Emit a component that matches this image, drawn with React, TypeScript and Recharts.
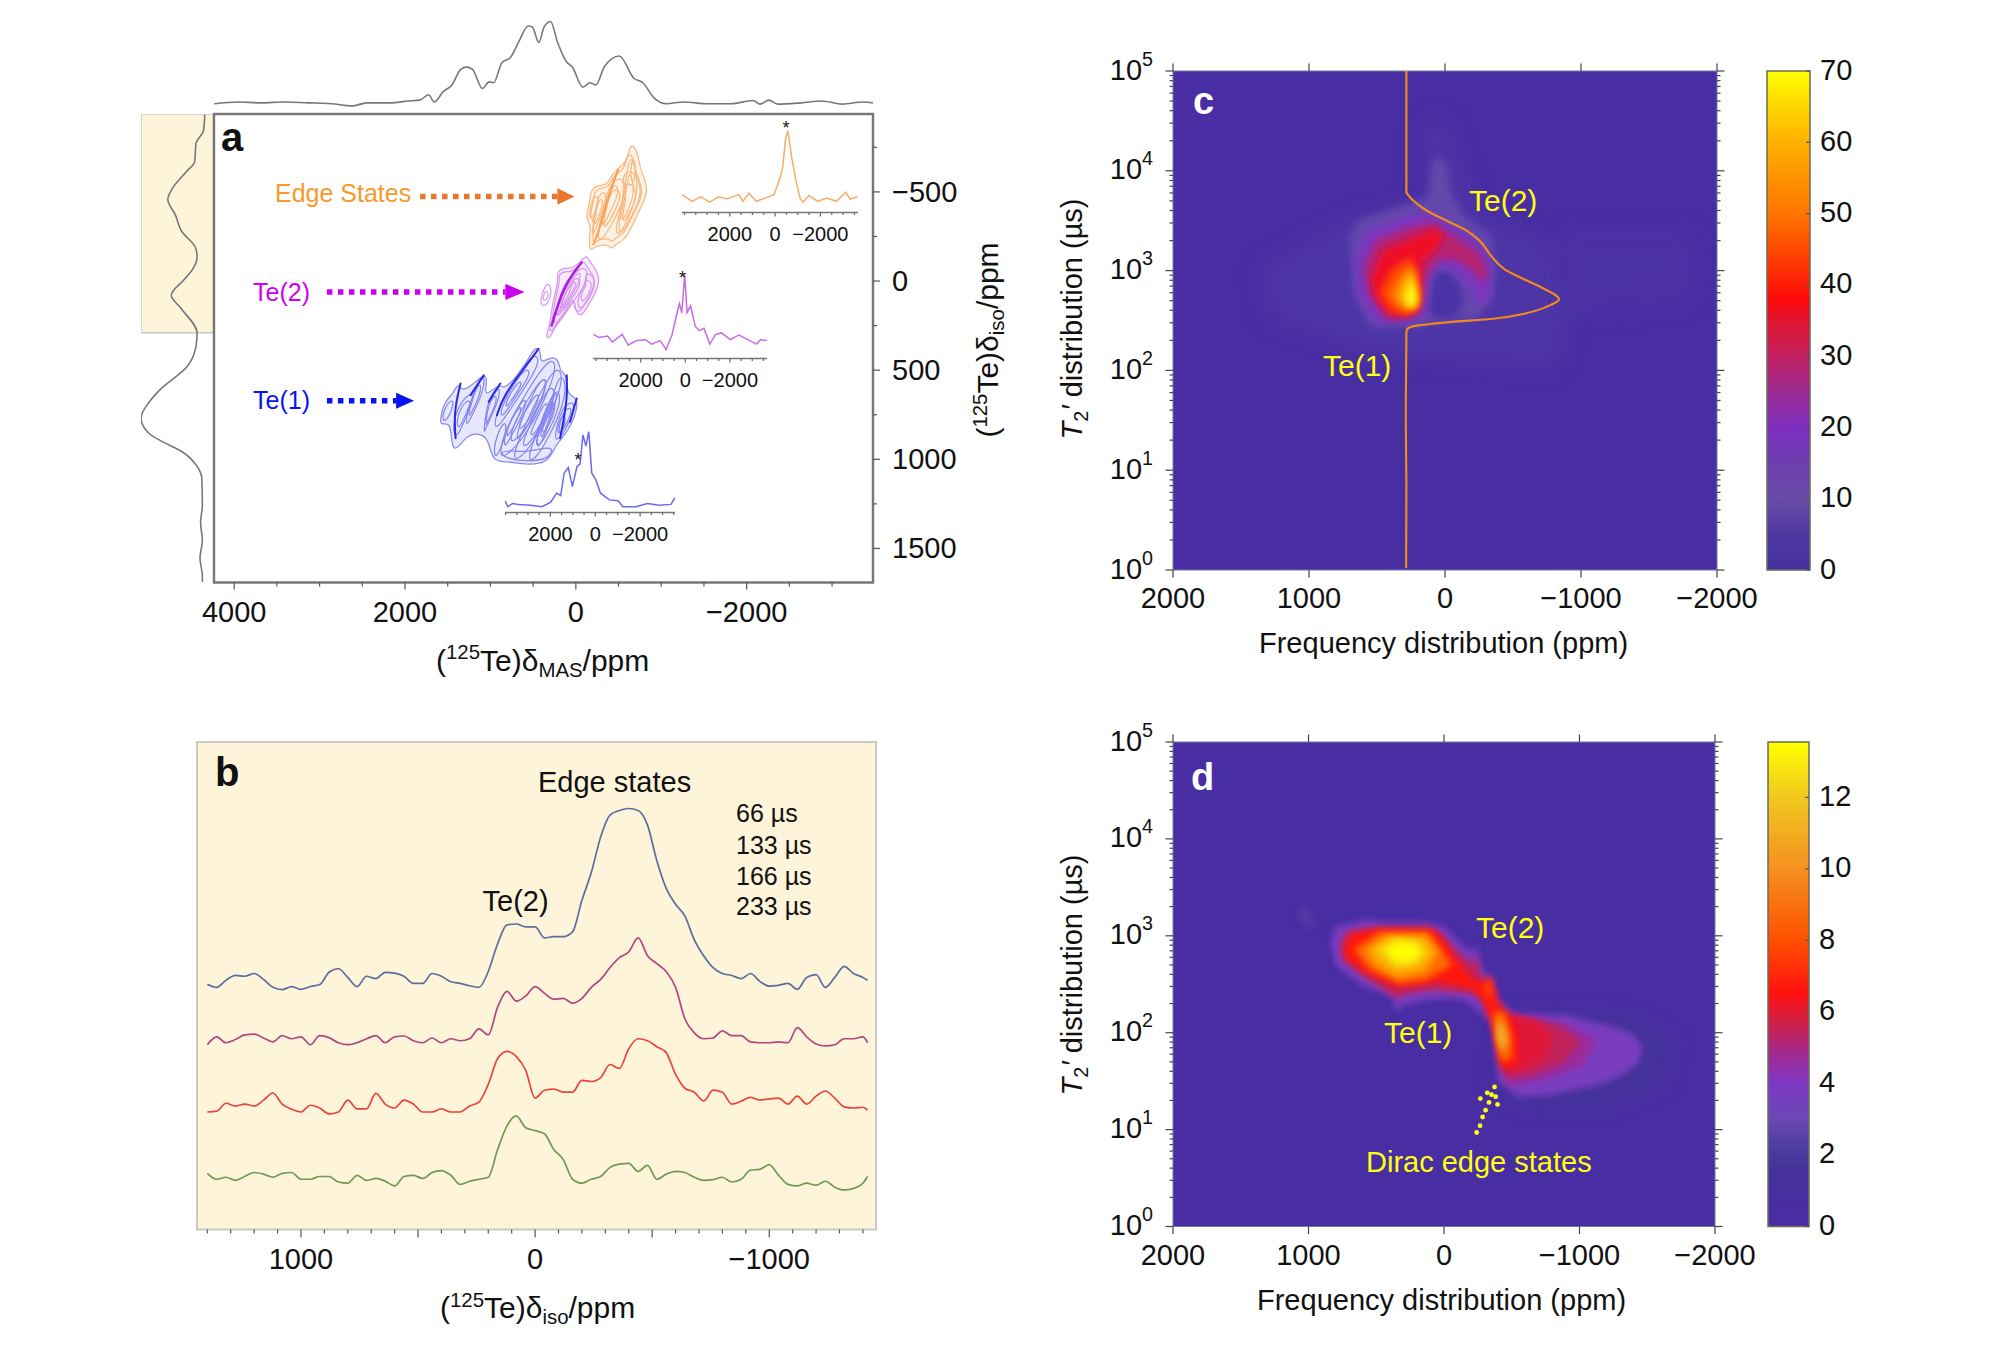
import React from "react";
import { ComposedChart, BarChart, Bar, Line, Scatter, XAxis, YAxis, ReferenceArea } from "recharts";

type Pt = [number, number];

// ---- panel a: projections, insets ----
const topPpm = [4234, 3959, 3684, 3409, 3134, 2859, 2619, 2447, 2172, 1966, 1828, 1725, 1656, 1553, 1450, 1347, 1278, 1210, 1093, 1017, 962, 866, 763, 660, 557, 509, 433, 371, 296, 213, 110, 41, -82, -165, -234, -337, -509, -680, -784, -921, -1058, -1265, -1540, -1814, -2076, -2158, -2261, -2364, -2639, -2880, -3120, -3361, -3478];
const topVals = [5.8, 7.6, 6.7, 7.6, 6.7, 5.8, 3.6, 6.7, 6.7, 8.5, 9.4, 14.8, 7.6, 17.9, 24.7, 40.4, 42.6, 40.4, 21.1, 27.8, 26.9, 47.1, 52.5, 69.5, 83.9, 83.0, 67.3, 83.0, 88.4, 67.3, 48.0, 42.6, 22.4, 26.9, 24.7, 43.5, 53.8, 31.4, 26.9, 11.2, 5.8, 7.6, 5.8, 5.8, 9.0, 5.4, 9.4, 5.4, 6.7, 8.5, 5.4, 7.6, 6.7];

const leftCurve: Pt[] = [[8.8, -932], [10, -845], [17.7, -770], [18.9, -670], [28.3, -608], [41.3, -520], [46, -458], [38.3, -370], [32.4, -282], [17.7, -182], [16.5, -132], [20.6, -70], [29.5, -8], [42.5, 80], [32.4, 155], [16.5, 292], [17.7, 368], [26.5, 480], [53, 605], [64.9, 680], [73, 768], [64.9, 855], [50, 905], [32.4, 955], [17.7, 1030], [11.8, 1105], [11.2, 1255], [13, 1355], [11.2, 1455], [13.6, 1555], [11.2, 1655], [11.2, 1688]];

const edgePpm = [4103, 3665, 3277, 2890, 2503, 2116, 1600, 1419, 1161, 826, 439, 52, -206, -335, -465, -568, -723, -903, -1110, -1239, -1497, -1884, -2271, -2710, -3123, -3303, -3639];
const edgeVals = [17.9, 11.2, 15.7, 10.3, 15.7, 13.5, 17.9, 11.2, 19.3, 11.2, 14.4, 17.9, 33.6, 44.9, 74, 81.7, 56.1, 33.6, 13.5, 10.3, 17, 11.2, 14.4, 11.2, 20.2, 13.5, 15.7];
const te2Ppm = [4131, 3869, 3477, 3268, 2824, 2562, 2170, 1778, 1516, 1124, 863, 601, 392, 261, 157, 26, -78, -235, -444, -627, -837, -1098, -1359, -1621, -2013, -2405, -2797, -3190, -3373, -3660];
const te2Vals = [24.2, 21.1, 22.4, 16.6, 24.2, 13.5, 17.9, 18.8, 14.4, 17.9, 9, 23.3, 43.5, 54.7, 45.8, 83.9, 45.8, 52.5, 32.3, 27.8, 30.1, 14.4, 24.2, 25.6, 18.8, 23.3, 18.8, 14.4, 18.8, 17.9];
const te1Ppm = [4026, 3895, 3686, 3425, 2902, 2379, 1987, 1725, 1542, 1386, 1203, 1020, 810, 680, 549, 418, 288, 157, -26, -235, -627, -1020, -1229, -1804, -2327, -2850, -3373, -3556];
const te1Vals = [11.7, 5.8, 9, 8.1, 7.2, 5.8, 10.3, 19.3, 17, 39.5, 44.9, 26, 46.2, 48.5, 77.6, 66.4, 80.8, 39.5, 32.7, 19.3, 12.6, 11.7, 5.8, 5.8, 9, 7.2, 8.1, 14.8];

// 2D contours, (MAS ppm, iso ppm); first loop of each list is the outline
const edgeContours: Pt[][] = [
  [[-670, -774], [-736, -699], [-748, -634], [-837, -541], [-825, -467], [-689, -346], [-592, -234], [-456, -206], [-417, -175], [-378, -206], [-223, -197], [-165, -160], [-153, -243], [-184, -309], [-107, -355], [-165, -430], [-165, -513], [-281, -541], [-359, -532], [-456, -625], [-592, -662], [-619, -736]],
  [[-638, -723], [-694, -659], [-702, -605], [-778, -526], [-767, -463], [-652, -360], [-570, -265], [-453, -241], [-420, -215], [-387, -241], [-255, -233], [-206, -202], [-196, -272], [-222, -329], [-157, -368], [-206, -432], [-206, -502], [-305, -526], [-371, -518], [-453, -597], [-569, -628], [-592, -691]],
  [[-650, -718], [-709, -606], [-728, -495], [-612, -346], [-495, -243], [-456, -290], [-553, -457], [-592, -606]],
  [[-634, -619], [-669, -552], [-681, -485], [-611, -396], [-541, -334], [-518, -362], [-576, -462], [-599, -552]],
  [[-456, -578], [-573, -569], [-592, -495], [-456, -346], [-320, -234], [-242, -225], [-301, -364], [-359, -495]],
  [[-442, -515], [-512, -509], [-523, -465], [-442, -376], [-360, -308], [-313, -303], [-349, -386], [-383, -465]],
  [[-262, -495], [-359, -504], [-340, -420], [-262, -327], [-184, -234], [-204, -327]],
  [[-261, -457], [-319, -462], [-308, -412], [-261, -356], [-214, -300], [-226, -356]],
  [[-534, -606], [-670, -625], [-767, -532], [-748, -448], [-592, -309], [-514, -253], [-495, -327], [-573, -476]],
  [[-568, -540], [-650, -551], [-708, -495], [-697, -445], [-603, -361], [-556, -328], [-545, -372], [-592, -462]],
  [[-670, -699], [-709, -625], [-670, -532], [-631, -606]],
  [[-410, -532], [-495, -541], [-495, -476], [-378, -364], [-301, -290], [-320, -383]],
  [[-184, -467], [-281, -485], [-223, -364], [-145, -337]],
];
const edgeRidge: Pt[] = [[-495, -625], [-378, -476], [-281, -290], [-204, -206]];

const te2Contours: Pt[][] = [
  [[-126, -150], [-165, -104], [-281, -39], [-262, 45], [-107, 166], [-68, 197], [10, 175], [10, 82], [127, 194], [263, 268], [301, 324], [360, 315], [301, 249], [282, 138], [204, 8], [224, -57], [127, -76], [49, -67], [-68, -113]],
  [[-92, -119], [-125, -79], [-224, -24], [-208, 47], [-76, 150], [-43, 176], [24, 158], [24, 79], [123, 174], [239, 237], [271, 284], [321, 277], [271, 221], [255, 126], [188, 16], [205, -39], [123, -56], [57, -48], [-43, -87]],
  [[313, 8], [282, 63], [321, 128], [399, 147], [418, 101], [360, 26]],
  [[340, 45], [313, 82], [367, 119], [391, 91]],
  [[-87, -85], [-145, -48], [-107, 26], [10, 101], [165, 212], [243, 249], [263, 212], [165, 82], [49, -30]],
  [[-20, -23], [-55, -1], [-32, 44], [38, 89], [131, 155], [178, 177], [190, 155], [131, 77], [61, 10]],
  [[-107, -48], [-223, -30], [-223, 45], [-107, 138], [-29, 166], [-21, 82], [-126, 8]],
  [[-112, -9], [-182, 2], [-182, 47], [-112, 103], [-65, 120], [-61, 69], [-124, 25]],
  [[10, -30], [-68, -57], [-29, 26], [127, 138], [224, 221], [204, 138], [107, 26]],
  [[42, 14], [-5, -2], [19, 48], [112, 115], [170, 165], [158, 115], [100, 48]],
  [[107, -11], [10, -30], [68, 63], [185, 166], [243, 212], [204, 101]],
];
const te2Ridge: Pt[] = [[-68, -104], [88, -11], [204, 119], [282, 249]];

const te1Contours: Pt[][] = [
  [[445, 365], [406, 417], [417, 464], [262, 417], [196, 454], [184, 510], [107, 519], [107, 640], [-10, 650], [-22, 715], [87, 845], [243, 919], [320, 1022], [592, 1031], [787, 1012], [981, 1016], [1020, 882], [1136, 854], [1272, 863], [1408, 956], [1455, 919], [1466, 789], [1564, 808], [1595, 789], [1544, 677], [1447, 640], [1369, 566], [1350, 612], [1253, 603], [1058, 510], [1039, 566], [1078, 659], [884, 566], [845, 622], [592, 473], [515, 398]],
  [[1447, 808], [1369, 696], [1253, 631], [1175, 640], [1292, 770], [1408, 901]],
  [[1398, 781], [1347, 710], [1270, 667], [1220, 673], [1298, 756], [1375, 841]],
  [[1136, 547], [1058, 529], [1097, 640], [1214, 752], [1292, 826], [1272, 733]],
  [[1155, 587], [1104, 575], [1130, 650], [1206, 722], [1257, 770], [1244, 709]],
  [[981, 622], [884, 584], [903, 677], [1058, 826], [1078, 863], [1058, 733]],
  [[990, 660], [924, 635], [937, 695], [1040, 792], [1053, 818], [1040, 731]],
  [[748, 566], [476, 389], [417, 454], [553, 566], [787, 733], [942, 845], [961, 770]],
  [[748, 590], [571, 478], [532, 520], [620, 590], [772, 700], [873, 772], [885, 723]],
  [[748, 615], [653, 555], [632, 578], [680, 615], [762, 673], [817, 712], [822, 686]],
  [[553, 603], [320, 436], [223, 454], [282, 584], [553, 845], [787, 975], [903, 994], [845, 845]],
  [[548, 651], [397, 543], [334, 554], [372, 639], [548, 808], [700, 893], [776, 905], [738, 808]],
  [[545, 692], [463, 634], [429, 641], [450, 685], [545, 777], [627, 823], [667, 830], [647, 777]],
  [[359, 566], [204, 473], [146, 547], [243, 696], [515, 919], [670, 1003], [748, 994], [631, 845]],
  [[380, 644], [279, 584], [242, 632], [305, 729], [482, 874], [583, 928], [633, 923], [557, 826]],
  [[399, 712], [344, 679], [324, 705], [358, 757], [453, 835], [507, 865], [535, 861], [494, 809]],
  [[204, 529], [118, 547], [126, 677], [320, 882], [476, 1003], [573, 1012], [476, 863], [282, 677]],
  [[241, 612], [186, 623], [191, 708], [317, 841], [418, 920], [481, 926], [418, 829], [292, 708]],
  [[273, 682], [243, 689], [246, 734], [314, 806], [368, 848], [402, 851], [368, 799], [300, 734]],
  [[165, 715], [87, 687], [9, 677], [48, 770], [204, 901], [262, 882]],
  [[149, 734], [99, 716], [48, 710], [73, 770], [175, 855], [212, 843]],
  [[184, 770], [126, 743], [126, 808], [184, 863], [223, 845]],
  [[476, 603], [359, 529], [340, 603], [553, 808], [709, 919], [670, 808]],
  [[728, 752], [592, 640], [573, 705], [787, 901], [845, 938], [825, 845]],
  [[736, 764], [647, 691], [635, 733], [774, 855], [812, 879], [799, 818]],
  [[942, 882], [825, 770], [806, 845], [923, 994], [961, 975]],
  [[1544, 715], [1447, 659], [1428, 696], [1505, 780], [1564, 789]],
  [[398, 770], [243, 603], [204, 640], [359, 863], [456, 956], [456, 863]],
  [[378, 770], [277, 660], [252, 684], [352, 834], [412, 894], [412, 834]],
  [[900, 960], [790, 1000], [590, 1010], [330, 1005], [250, 930], [400, 940], [600, 960], [780, 950]],
];
const te1Ridges: Pt[][] = [
  [[437, 380], [592, 482], [845, 640], [923, 752]],
  [[1350, 575], [1428, 733], [1408, 882]],
  [[1078, 529], [1233, 640]],
  [[107, 529], [95, 659], [184, 882]],
  [[884, 575], [1020, 677]],
  [[-10, 659], [68, 789]],
];

const arrowEdge: Pt[] = [[1824, -474], [216, -474]];
const arrowEdgeHead: Pt[] = [[216, -520], [17, -474], [216, -428]];
const arrowTe2: Pt[] = [[2914, 61], [825, 61]];
const arrowTe2Head: Pt[] = [[825, 16], [600, 61], [825, 106]];
const arrowTe1: Pt[] = [[2914, 672], [2104, 672]];
const arrowTe1Head: Pt[] = [[2104, 627], [1894, 672], [2104, 717]];

// ---- panel b ----
const bPpm = [1400, 1360, 1320, 1280, 1240, 1200, 1160, 1120, 1080, 1040, 1000, 960, 920, 880, 840, 800, 760, 720, 680, 640, 600, 560, 520, 480, 440, 400, 360, 320, 280, 240, 200, 160, 120, 80, 40, 0, -40, -80, -120, -160, -200, -240, -280, -320, -360, -400, -440, -480, -520, -560, -600, -640, -680, -720, -760, -800, -840, -880, -920, -960, -1000, -1040, -1080, -1120, -1160, -1200, -1240, -1280, -1320, -1360, -1400, -1420];
const b66 = [62.0, 61.2, 63.0, 64.2, 64.0, 64.7, 63.2, 61.2, 60.6, 61.4, 60.7, 61.4, 61.9, 65.0, 65.9, 63.7, 61.4, 64.0, 63.4, 65.0, 64.8, 64.0, 62.2, 62.2, 64.7, 64.0, 62.6, 62.2, 61.6, 61.2, 65.2, 72.2, 77.0, 77.2, 76.5, 76.5, 73.7, 74.0, 74.0, 75.2, 83.2, 90.2, 99.2, 104.7, 105.9, 106.4, 105.9, 102.2, 93.2, 86.2, 82.2, 79.2, 73.2, 69.2, 66.2, 64.7, 64.2, 63.4, 64.7, 62.7, 61.5, 61.7, 62.2, 60.7, 63.7, 64.4, 61.2, 63.7, 66.5, 64.7, 63.7, 63.0];
const b133 = [46.7, 48.7, 47.2, 48.0, 49.2, 49.4, 48.4, 47.4, 49.0, 48.2, 48.7, 46.7, 49.0, 48.5, 47.2, 46.7, 47.2, 48.2, 49.0, 47.2, 48.7, 48.9, 47.7, 47.2, 48.4, 47.2, 48.2, 47.7, 48.2, 50.7, 49.2, 56.2, 60.2, 57.7, 59.0, 61.4, 59.7, 58.2, 58.4, 57.2, 58.4, 61.2, 63.2, 66.2, 68.7, 70.2, 73.7, 69.2, 67.2, 65.2, 61.2, 53.2, 49.7, 48.2, 48.4, 50.2, 49.0, 49.0, 47.4, 47.2, 47.2, 47.4, 47.2, 51.0, 48.7, 46.9, 46.4, 46.7, 48.2, 48.2, 48.7, 47.2];
const b166 = [29.7, 29.9, 31.9, 31.2, 31.7, 31.2, 32.7, 34.5, 31.7, 30.4, 29.7, 31.4, 30.7, 29.2, 29.7, 32.7, 30.5, 30.5, 34.4, 31.7, 30.7, 32.7, 31.7, 29.7, 29.7, 30.5, 29.7, 29.7, 31.2, 32.2, 36.7, 43.2, 45.0, 43.7, 40.2, 33.2, 35.2, 35.5, 34.7, 34.7, 37.7, 37.4, 38.4, 41.7, 40.7, 45.7, 48.2, 47.7, 46.2, 44.7, 39.2, 35.7, 34.7, 32.5, 35.2, 34.7, 31.7, 32.4, 33.4, 32.7, 33.0, 33.2, 31.7, 33.7, 31.7, 33.7, 35.0, 33.2, 31.0, 30.7, 30.9, 30.2];
const b233 = [14.2, 12.7, 13.2, 12.4, 13.4, 14.4, 14.0, 13.2, 14.2, 14.4, 12.7, 12.7, 13.4, 13.4, 12.0, 11.7, 13.7, 12.4, 12.9, 12.2, 11.0, 13.4, 13.7, 12.9, 14.4, 14.9, 13.7, 11.4, 12.2, 12.7, 13.2, 20.2, 26.2, 28.7, 25.7, 25.0, 24.2, 20.2, 17.7, 12.7, 11.7, 12.7, 13.4, 15.7, 16.5, 16.7, 14.7, 16.2, 12.7, 14.0, 14.7, 14.4, 13.2, 12.4, 12.6, 13.2, 12.0, 12.7, 15.0, 15.2, 16.4, 13.7, 11.4, 11.0, 11.7, 11.2, 12.2, 10.7, 10.0, 10.4, 11.7, 13.4];
const bDelays = ["66 µs", "133 µs", "166 µs", "233 µs"];

// ---- panel c: filled levels, (ppm, log10 T2) ----
const cLevels = [3, 3, 10, 0, 18, 28, 36, 45, 55, 63, 70];
const cContours: Pt[][] = [
  [[1362, 3.02], [677, 3.51], [153, 3.67], [153, 4.49], [32, 4.57], [-129, 3.96], [-250, 3.55], [-814, 3.26], [-895, 2.44], [-814, 2.03], [153, 2.12], [596, 2.2], [1282, 2.52]],
  [[-854, 3.38], [-1822, 3.38], [-1822, 2.69], [-854, 2.52]],
  [[706, 3.34], [632, 3.51], [242, 3.68], [120, 3.74], [96, 4.11], [-2, 4.11], [-51, 3.74], [-148, 3.54], [-344, 3.34], [-368, 3.01], [-344, 2.71], [-222, 2.51], [-100, 2.51], [47, 2.48], [242, 2.43], [559, 2.44], [669, 2.78]],
  [[71, 2.99], [-26, 2.99], [-112, 2.85], [-136, 2.68], [-75, 2.54], [59, 2.51], [120, 2.58], [108, 2.78]],
  [[660, 3.11], [590, 3.38], [364, 3.51], [144, 3.59], [-26, 3.48], [-222, 3.31], [-344, 3.08], [-344, 2.78], [-270, 2.64], [-197, 2.78], [-100, 2.98], [22, 3.04], [96, 2.98], [132, 2.71], [144, 2.54], [266, 2.48], [500, 2.48], [640, 2.71]],
  [[590, 3.04], [510, 3.3], [315, 3.41], [96, 3.49], [-75, 3.34], [-246, 3.18], [-307, 3.01], [-283, 2.88], [-197, 3.01], [-75, 3.11], [47, 3.11], [144, 2.94], [169, 2.64], [242, 2.54], [430, 2.52], [565, 2.78]],
  [[545, 2.91], [460, 3.2], [266, 3.31], [71, 3.43], [10, 3.34], [71, 3.21], [169, 3.08], [181, 2.78], [193, 2.61], [266, 2.54], [410, 2.55], [510, 2.71]],
  [[480, 2.78], [400, 3], [254, 3.14], [205, 2.98], [181, 2.74], [205, 2.61], [279, 2.56], [400, 2.6]],
  [[400, 2.74], [340, 2.92], [247, 3.04], [205, 2.88], [193, 2.71], [230, 2.61], [303, 2.61]],
  [[330, 2.74], [254, 3], [218, 2.83], [200, 2.66], [254, 2.63], [291, 2.66]],
  [[285, 2.71], [247, 2.92], [215, 2.71], [250, 2.62]],
];
const cProjection: Pt[] = [[284, 5], [284, 4.2], [284, 3.79], [254, 3.73], [144, 3.61], [-26, 3.49], [-148, 3.41], [-246, 3.31], [-344, 3.14], [-441, 3.01], [-539, 2.94], [-710, 2.83], [-839, 2.71], [-783, 2.66], [-588, 2.57], [-368, 2.52], [-2, 2.48], [242, 2.44], [279, 2.41], [284, 2.38], [288, 1.5], [284, 0.8], [286, 0.02]];

// ---- panel d ----
const dLevels = [1.5, 2.5, 3.5, 4.2, 5, 5.8, 6.5, 8.5, 8.5, 8.5, 10, 10, 12, 11, 13];
const dContours: Pt[][] = [
  [[-449, 2.21], [-1379, 2.18], [-1697, 1.94], [-1624, 1.46], [-1134, 1.19], [-523, 1.26], [-376, 1.46]],
  [[1068, 3.31], [970, 3.24], [946, 3.07], [1019, 3.1], [1068, 3.17]],
  [[836, 2.93], [799, 3.09], [554, 3.17], [481, 3.14], [138, 3.14], [-9, 3.09], [-82, 2.97], [-204, 2.83], [-241, 2.9], [-290, 2.61], [-351, 2.61], [-400, 2.35], [-523, 2.2], [-890, 2.18], [-1257, 2.06], [-1400, 1.98], [-1465, 1.85], [-1430, 1.68], [-1300, 1.55], [-1134, 1.46], [-792, 1.36], [-547, 1.34], [-400, 1.5], [-376, 1.8], [-351, 2.08], [-253, 2.23], [-131, 2.35], [89, 2.35], [309, 2.28], [346, 2.21], [383, 2.37], [603, 2.49], [799, 2.69]],
  [[-500, 2.17], [-900, 2.1], [-1130, 1.92], [-1020, 1.65], [-700, 1.5], [-450, 1.45]],
  [[762, 2.9], [725, 3.04], [530, 3.09], [114, 3.09], [16, 3.02], [-82, 2.86], [-217, 2.71], [-241, 2.81], [-278, 2.57], [-339, 2.57], [-400, 2.33], [-498, 2.18], [-841, 2.08], [-1012, 1.91], [-890, 1.7], [-645, 1.56], [-449, 1.53], [-400, 1.74], [-364, 2.08], [-290, 2.32], [-229, 2.4], [89, 2.44], [309, 2.39], [346, 2.35], [579, 2.57], [750, 2.76]],
  [[-450, 2.2], [-700, 2.12], [-800, 1.95], [-740, 1.72], [-560, 1.6], [-440, 1.62]],
  [[738, 2.88], [689, 3.02], [505, 3.07], [89, 3.07], [16, 2.98], [-82, 2.78], [-204, 2.56], [-278, 2.52], [-351, 2.56], [-400, 2.28], [-498, 2.13], [-547, 1.94], [-547, 1.67], [-425, 1.63], [-388, 1.87], [-351, 2.11], [-278, 2.35], [-204, 2.45], [40, 2.52], [334, 2.47], [579, 2.61], [725, 2.76]],
  [[664, 2.86], [481, 3.04], [114, 3.04], [16, 2.86], [-58, 2.69], [138, 2.54], [334, 2.51], [554, 2.66]],
  [[-364, 2.21], [-449, 2.21], [-498, 1.94], [-498, 1.74], [-425, 1.7], [-388, 1.94]],
  [[-315, 2.56], [-346, 2.49], [-339, 2.32], [-302, 2.42]],
  [[579, 2.85], [432, 3], [138, 3], [40, 2.83], [138, 2.63], [334, 2.57], [505, 2.69]],
  [[-388, 2.15], [-449, 2.08], [-474, 1.91], [-425, 1.77], [-400, 1.91]],
  [[517, 2.85], [383, 2.98], [163, 2.95], [114, 2.81], [212, 2.68], [358, 2.66]],
  [[-400, 2.08], [-444, 1.98], [-425, 1.84], [-400, 1.94]],
  [[432, 2.85], [334, 2.95], [212, 2.92], [163, 2.81], [260, 2.73], [358, 2.73]],
];
const dDiracDots: Pt[] = [[-241, 0.97], [-266, 1.04], [-285, 1.13], [-307, 1.2], [-332, 1.28], [-351, 1.36], [-373, 1.44], [-319, 1.38], [-268, 1.32], [-381, 1.34], [-395, 1.26]];

// ---- axes ----
const aXTicks = [4000, 3500, 3000, 2500, 2000, 1500, 1000, 500, 0, -500, -1000, -1500, -2000, -2500, -3000];
const aXLabels = [4000, 2000, 0, -2000];
const aYTicks = [-750, -500, -250, 0, 250, 500, 750, 1000, 1250, 1500];
const aYLabels = [-500, 0, 500, 1000, 1500];
const insetTicks = [4000, 3500, 3000, 2500, 2000, 1500, 1000, 500, 0, -500, -1000, -1500, -2000, -2500, -3000, -3500];
const insetLabels = [2000, 0, -2000];
const bTicks = [1400, 1300, 1200, 1100, 1000, 900, 800, 700, 600, 500, 400, 300, 200, 100, 0, -100, -200, -300, -400, -500, -600, -700, -800, -900, -1000, -1100, -1200, -1300, -1400];
const bLabels = [1000, 0, -1000];
const freqTicks = [2000, 1000, 0, -1000, -2000];
const decades = [0, 1, 2, 3, 4, 5];
const logTicks = decades.flatMap((d) => (d === 5 ? [5] : [1, 2, 3, 4, 5, 6, 7, 8, 9].map((k) => d + Math.log10(k))));
const cBarTicks = [0, 10, 20, 30, 40, 50, 60, 70];
const dBarTicks = [0, 2, 4, 6, 8, 10, 12];

// ---- colours ----
const FONT = "'Liberation Sans', Arial, sans-serif";
const HEAT_BASE = "#482DA3";
const CREAM = "#FDF4DA";
const cLevelColors = ["#4D34A6", "#4B31A5", "#6347AC", "#4A33A6", "#7D35BE", "#B8226E", "#F01028", "#FF4A00", "#FF8C00", "#FFC800", "#FFFF20"];
const dLevelColors = ["#45309A", "#523AA4", "#7A3CC0", "#9A2C9C", "#C2205A", "#E01838", "#FF1410", "#FF6A00", "#FF6A00", "#FF5000", "#FFA500", "#F59A20", "#F5D010", "#EDB830", "#FFFF00"];
const cBarStops: [number, string][] = [[0, "#45309F"], [5, "#4F38A0"], [10, "#6A4CA8"], [15, "#6D3EAE"], [20, "#7D2EC0"], [25, "#9A2A90"], [30, "#C22060"], [35, "#E01530"], [38, "#FF0A0A"], [45, "#FF4A00"], [50, "#FF7500"], [60, "#FFB000"], [70, "#FFFF00"]];
const dBarStops: [number, string][] = [[0, "#482CA4"], [1.5, "#45319A"], [2.2, "#4E3CA2"], [3, "#6A48B5"], [4, "#7E38C6"], [4.8, "#A02A90"], [5.6, "#C8204E"], [6.5, "#FF1010"], [8, "#FF5000"], [10, "#F59020"], [12, "#F0C820"], [13.55, "#FFFF00"]];

// chart box around a plot rectangle; axes [t,r,b,l] = sides that hold a 1px axis band
const place = (x0: number, y0: number, x1: number, y1: number, pad: number[], axes = [0, 0, 0, 0]) => {
  const [t, r, b, l] = pad;
  const width = x1 - x0 + l + r;
  const height = y1 - y0 + t + b;
  return {
    box: { position: "absolute", left: x0 - l, top: y0 - t, width, height } as React.CSSProperties,
    size: { width, height, margin: { top: t - axes[0], right: r - axes[1], bottom: b - axes[2], left: l - axes[3] } },
  };
};

const minus = (v: number) => (v < 0 ? `\u2212${Math.abs(v)}` : `${v}`);

// tick marks + optional label, drawn at the position the axis gives
const ticker = (side: string, labels: number[], opt: { major: number; minor: number; gap: number; size: number; color?: string; log?: boolean; markMajor?: number[] }) => (p: any) => {
  const v = p.payload.value;
  const isMajor = opt.log ? Number.isInteger(v) : (opt.markMajor ?? labels).includes(v);
  const len = isMajor ? opt.major : opt.minor;
  const dx = side === "left" ? -1 : side === "right" ? 1 : 0;
  const dy = side === "top" ? -1 : side === "bottom" ? 1 : 0;
  const showLabel = opt.log ? Number.isInteger(v) && labels.length > 0 : labels.includes(v);
  return (
    <g>
      <line x1={p.x} y1={p.y} x2={p.x + dx * len} y2={p.y + dy * len} stroke={opt.color ?? "#555"} strokeWidth={1.2} />
      {showLabel && !opt.log && (
        <text x={p.x + dx * opt.gap} y={p.y + dy * opt.gap} fontSize={opt.size} fontFamily={FONT} fill="#111" textAnchor={dy !== 0 ? "middle" : dx > 0 ? "start" : "end"} dominantBaseline="central">
          {minus(v)}
        </text>
      )}
      {showLabel && opt.log && (
        <text x={p.x - opt.gap} y={p.y - 1.5} fontSize={opt.size} fontFamily={FONT} fill="#111" textAnchor="end" dominantBaseline="central">
          10<tspan dy={-11} fontSize={opt.size * 0.68}>{v}</tspan>
        </text>
      )}
    </g>
  );
};

const noDot = () => null;
const asPoints = (pts: Pt[]) => pts.map(([x, y]) => ({ x, y }));

const contour = (key: string, pts: Pt[], stroke: string, width: number, tint?: string) => (
  <Scatter key={key} data={asPoints(pts)} shape={noDot} line={{ stroke, strokeWidth: width, fill: tint ?? "none", fillOpacity: 0.2 }} lineJointType="basisClosed" isAnimationActive={false} legendType="none" />
);
const ridge = (key: string, pts: Pt[], stroke: string, width = 2.4) => (
  <Scatter key={key} data={asPoints(pts)} shape={noDot} line={{ stroke, strokeWidth: width, fill: "none", strokeLinecap: "round" }} lineJointType="basis" isAnimationActive={false} legendType="none" />
);
const filled = (key: string, pts: Pt[], fill: string, filter: string) => (
  <Scatter key={key} data={asPoints(pts)} shape={noDot} line={{ stroke: "none", fill, filter }} lineJointType="linearClosed" isAnimationActive={false} legendType="none" />
);
const arrow = (name: string, shaft: Pt[], head: Pt[], color: string) => [
  <Scatter key={name} data={asPoints(shaft)} shape={noDot} line={{ stroke: color, strokeWidth: 5.5, strokeDasharray: "5.5 5.5" }} lineJointType="linear" isAnimationActive={false} legendType="none" />,
  <Scatter key={name + "h"} data={asPoints(head)} shape={noDot} line={{ stroke: "none", fill: color }} lineJointType="linearClosed" isAnimationActive={false} legendType="none" />,
];

const Note = ({ x, y, size, color = "#111", bold, children }: any) => (
  <div style={{ position: "absolute", left: x, top: y, transform: "translateY(-50%)", fontFamily: FONT, fontSize: size, fontWeight: bold ? 700 : 400, color, whiteSpace: "nowrap", lineHeight: 1 }}>{children}</div>
);
const Turned = ({ x, y, size, children }: any) => (
  <div style={{ position: "absolute", left: x, top: y, transform: "translate(-50%,-50%) rotate(-90deg)", fontFamily: FONT, fontSize: size, color: "#111", whiteSpace: "nowrap", lineHeight: 1 }}>{children}</div>
);
const Sup = ({ children }: any) => <span style={{ fontSize: "0.68em", position: "relative", top: "-0.55em" }}>{children}</span>;
const Sub = ({ children }: any) => <span style={{ fontSize: "0.68em", position: "relative", top: "0.3em" }}>{children}</span>;

const Inset = ({ ppm, vals, color, rect, domain }: any) => {
  const p = place(rect[0], rect[1], rect[2], rect[3], [4, 6, 34, 6], [0, 0, 1, 0]);
  const data = ppm.map((x: number, i: number) => ({ x, v: vals[i] }));
  return (
    <div style={p.box}>
      <ComposedChart {...p.size} data={data}>
        <XAxis dataKey="x" type="number" domain={domain} reversed allowDataOverflow ticks={insetTicks} interval={0} height={1} tickSize={0} tickMargin={0} tickLine={false} axisLine={{ stroke: "#777", strokeWidth: 1.6 }} tick={ticker("bottom", insetLabels, { major: 4, minor: 2.5, gap: 21, size: 20, color: "#666" })} />
        <YAxis hide domain={[0, rect[3] - rect[1]]} />
        <Line dataKey="v" stroke={color} strokeWidth={1.5} dot={false} type="linear" isAnimationActive={false} />
      </ComposedChart>
    </div>
  );
};

const ColorBar = ({ id, rect, stops, top, ticks }: any) => {
  const p = place(rect[0], rect[1], rect[2], rect[3], [16, 60, 16, 4], [0, 1, 0, 0]);
  return (
    <div style={p.box}>
      <BarChart {...p.size} data={[{ n: "bar", v: top }]} barCategoryGap={0}>
        <defs>
          <linearGradient id={id} x1="0" y1="1" x2="0" y2="0">
            {stops.map(([v, c]: [number, string]) => <stop key={v} offset={v / top} stopColor={c} />)}
          </linearGradient>
        </defs>
        <XAxis dataKey="n" hide />
        <YAxis orientation="right" width={1} domain={[0, top]} ticks={ticks} interval={0} tickSize={0} tickMargin={0} tickLine={false} axisLine={false}
          tick={(t: any) => (
            <g>
              <line x1={t.x - 4} y1={t.y} x2={t.x} y2={t.y} stroke="#554" strokeWidth={1.2} />
              <text x={t.x + 10} y={t.y - 1.5} fontSize={29} fontFamily={FONT} fill="#111" dominantBaseline="central">{t.payload.value}</text>
            </g>
          )} />
        <Bar dataKey="v" fill={`url(#${id})`} stroke="#6b6b5a" strokeWidth={1.5} isAnimationActive={false} />
      </BarChart>
    </div>
  );
};

const HeatMap = ({ rect, id, levels, contours, colors, blur, wideBelow, children }: any) => {
  const p = place(rect[0], rect[1], rect[2], rect[3], [26, 44, 46, 74], [1, 1, 1, 1]);
  const mark = { major: 7.5, minor: 3.5, gap: 20, size: 29, color: "#444" };
  return (
    <div style={p.box}>
      <ComposedChart {...p.size}>
        <defs>
          <filter id={id} x="-60%" y="-60%" width="220%" height="220%">
            <feGaussianBlur stdDeviation={blur} />
          </filter>
          <filter id={id + "w"} x="-60%" y="-60%" width="220%" height="220%">
            <feGaussianBlur stdDeviation={blur * 3} />
          </filter>
        </defs>
        <XAxis dataKey="x" type="number" domain={[-2000, 2000]} reversed allowDataOverflow ticks={freqTicks} interval={0} height={1} tickSize={0} tickMargin={0} tickLine={false} axisLine={false} tick={ticker("bottom", freqTicks, { ...mark, gap: 28 })} />
        <XAxis xAxisId="t" orientation="top" dataKey="x" type="number" domain={[-2000, 2000]} reversed allowDataOverflow ticks={freqTicks} interval={0} height={1} tickSize={0} tickMargin={0} tickLine={false} axisLine={false} tick={ticker("top", [], { ...mark, markMajor: freqTicks })} />
        <YAxis dataKey="y" type="number" domain={[0, 5]} allowDataOverflow ticks={logTicks} interval={0} width={1} tickSize={0} tickMargin={0} tickLine={false} axisLine={false} tick={ticker("left", decades, { ...mark, log: true })} />
        <YAxis yAxisId="r" orientation="right" dataKey="y" type="number" domain={[0, 5]} allowDataOverflow ticks={logTicks} interval={0} width={1} tickSize={0} tickMargin={0} tickLine={false} axisLine={false} tick={ticker("right", [], { ...mark, log: true })} />
        <ReferenceArea x1={-2000} x2={2000} y1={0} y2={5} fill={HEAT_BASE} fillOpacity={1} stroke="#77769a" strokeWidth={1} />
        {contours.map((pts: Pt[], i: number) => filled(`lvl${levels[i]}-${i}`, pts, colors[i], levels[i] > 0 && levels[i] <= wideBelow ? `url(#${id}w)` : `url(#${id})`))}
        {children}
      </ComposedChart>
    </div>
  );
};

export default function App() {
  const aMain = place(213.5, 113.5, 872.5, 582, [4, 100, 60, 30], [0, 1, 1, 0]);
  const aTop = place(213.5, 10, 872.5, 109.5, [0, 0, 0, 0]);
  const aLeft = place(141, 113.5, 213.5, 582, [0, 0, 0, 0]);
  const bMain = place(197, 742, 876, 1229.5, [2, 8, 50, 8], [0, 0, 1, 0]);
  const bData = bPpm.map((x, i) => ({ x, b66: b66[i], b133: b133[i], b166: b166[i], b233: b233[i] }));
  const topData = topPpm.map((x, i) => ({ x, v: topVals[i] }));

  return (
    <div style={{ position: "absolute", left: 0, top: 0, width: 1992, height: 1368, background: "#fff", overflow: "hidden" }}>
      {/* a: top projection */}
      <div style={aTop.box}>
        <ComposedChart {...aTop.size} data={topData}>
          <XAxis dataKey="x" type="number" domain={[-3479, 4236]} reversed allowDataOverflow hide />
          <YAxis hide domain={[0, 100]} />
          <Line dataKey="v" stroke="#777" strokeWidth={1.6} dot={false} type="monotone" isAnimationActive={false} />
        </ComposedChart>
      </div>
      {/* a: left projection */}
      <div style={aLeft.box}>
        <ComposedChart {...aLeft.size}>
          <XAxis dataKey="x" type="number" domain={[0, 73]} reversed allowDataOverflow hide />
          <YAxis dataKey="y" type="number" domain={[-937, 1691]} reversed allowDataOverflow hide />
          <ReferenceArea x1={0} x2={73} y1={-937} y2={290} fill={CREAM} fillOpacity={1} stroke="#c9c9c2" strokeWidth={1.5} />
          <Scatter data={asPoints(leftCurve)} shape={noDot} line={{ stroke: "#777", strokeWidth: 1.6 }} lineJointType="monotoneY" isAnimationActive={false} legendType="none" />
        </ComposedChart>
      </div>
      {/* a: 2D spectrum */}
      <div style={aMain.box}>
        <ComposedChart {...aMain.size}>
          <XAxis dataKey="x" type="number" domain={[-3479, 4236]} reversed allowDataOverflow ticks={aXTicks} interval={0} height={1} tickSize={0} tickMargin={0} tickLine={false} axisLine={false} tick={ticker("bottom", aXLabels, { major: 7, minor: 4, gap: 29, size: 29 })} />
          <YAxis orientation="right" dataKey="y" type="number" domain={[-937, 1691]} reversed allowDataOverflow ticks={aYTicks} interval={0} width={1} tickSize={0} tickMargin={0} tickLine={false} axisLine={false} tick={ticker("right", aYLabels, { major: 7, minor: 4, gap: 19, size: 29 })} />
          <ReferenceArea x1={-3479} x2={4236} y1={-937} y2={1691} fill="#fff" fillOpacity={0} stroke="#777" strokeWidth={2.4} />
          {edgeContours.map((c, i) => contour(`e${i}`, c, "#F8B77C", 1.2, i === 0 ? "#F8B77C" : undefined))}
          {ridge("er", edgeRidge, "#F6A050", 2)}
          {te2Contours.map((c, i) => contour(`p${i}`, c, "#D795EE", 1.2, i === 0 ? "#D795EE" : undefined))}
          {ridge("pr", te2Ridge, "#A81CE0")}
          {te1Contours.map((c, i) => contour(`b${i}`, c, "#8585F0", 1.2, i === 0 ? "#8585F0" : undefined))}
          {te1Ridges.map((r, i) => ridge(`br${i}`, r, "#2828E8", 2))}
          {arrow("ae", arrowEdge, arrowEdgeHead, "#E8762D")}
          {arrow("ap", arrowTe2, arrowTe2Head, "#CC00EE")}
          {arrow("ab", arrowTe1, arrowTe1Head, "#0814F0")}
        </ComposedChart>
      </div>
      <Inset ppm={edgePpm} vals={edgeVals} color="#F5AD6B" rect={[682, 119.5, 858, 212]} domain={[-3660, 4110]} />
      <Inset ppm={te2Ppm} vals={te2Vals} color="#C66BEA" rect={[592.5, 258.5, 766.5, 358]} domain={[-3660, 4135]} />
      <Inset ppm={te1Ppm} vals={te1Vals} color="#6A6AF0" rect={[505, 423, 675, 512.5]} domain={[-3556, 4026]} />
      <Note x={782.5} y={128} size={18}>*</Note>
      <Note x={679} y={277.5} size={18}>*</Note>
      <Note x={574.5} y={459.5} size={18}>*</Note>
      <Note x={221} y={137} size={40} bold>a</Note>
      <Note x={275} y={193} size={25} color="#F79A2B">Edge States</Note>
      <Note x={253} y={291.5} size={25} color="#D000F0">Te(2)</Note>
      <Note x={253} y={400} size={25} color="#0814F0">Te(1)</Note>
      <Note x={436} y={660.5} size={30}>(<Sup>125</Sup>Te)δ<Sub>MAS</Sub>/ppm</Note>
      <Turned x={988} y={340} size={30}>(<Sup>125</Sup>Te)δ<Sub>iso</Sub>/ppm</Turned>

      {/* b: slices */}
      <div style={bMain.box}>
        <ComposedChart {...bMain.size} data={bData}>
          <XAxis dataKey="x" type="number" domain={[-1456, 1444]} reversed allowDataOverflow ticks={bTicks} interval={0} height={1} tickSize={0} tickMargin={0} tickLine={false} axisLine={false} tick={ticker("bottom", bLabels, { major: 8, minor: 4, gap: 29, size: 29, markMajor: [1000, 0, -1000, 500, -500] })} />
          <YAxis hide domain={[0, 123.2]} />
          <ReferenceArea x1={-1456} x2={1444} y1={0} y2={123.2} fill={CREAM} fillOpacity={1} stroke="#c9c9c4" strokeWidth={2} />
          <Line dataKey="b66" stroke="#5C6E9E" strokeWidth={1.7} dot={false} type="monotone" isAnimationActive={false} />
          <Line dataKey="b133" stroke="#B0477F" strokeWidth={1.7} dot={false} type="monotone" isAnimationActive={false} />
          <Line dataKey="b166" stroke="#E8453A" strokeWidth={1.7} dot={false} type="monotone" isAnimationActive={false} />
          <Line dataKey="b233" stroke="#6F9A55" strokeWidth={1.7} dot={false} type="monotone" isAnimationActive={false} />
        </ComposedChart>
      </div>
      <Note x={215} y={772} size={40} bold>b</Note>
      <Note x={538} y={781.5} size={29}>Edge states</Note>
      <Note x={482.5} y={901} size={29}>Te(2)</Note>
      {bDelays.map((d, i) => <Note key={d} x={736} y={[812.5, 844.5, 875.5, 906][i]} size={25}>{d}</Note>)}
      <Note x={440} y={1308} size={30}>(<Sup>125</Sup>Te)δ<Sub>iso</Sub>/ppm</Note>

      {/* c */}
      <HeatMap rect={[1172.5, 71, 1716.5, 570]} id="softC" levels={cLevels} contours={cContours} colors={cLevelColors} blur={3.5} wideBelow={3}>
        <Scatter data={asPoints(cProjection)} shape={noDot} line={{ stroke: "#F08A1E", strokeWidth: 2.2 }} lineJointType="monotoneY" isAnimationActive={false} legendType="none" />
      </HeatMap>
      <ColorBar id="barC" rect={[1767, 71, 1810, 570]} stops={cBarStops} top={70} ticks={cBarTicks} />
      <Note x={1193} y={100.5} size={38} color="#fff" bold>c</Note>
      <Note x={1469} y={201} size={30} color="#FFFF10">Te(2)</Note>
      <Note x={1323} y={366} size={30} color="#FFFF10">Te(1)</Note>
      <Note x={1259} y={642.5} size={29}>Frequency distribution (ppm)</Note>
      <Turned x={1071.5} y={319} size={29}><i>T</i><Sub>2</Sub><i>′</i> distribution (µs)</Turned>

      {/* d */}
      <HeatMap rect={[1172.5, 742, 1714.5, 1226.5]} id="softD" levels={dLevels} contours={dContours} colors={dLevelColors} blur={3} wideBelow={1.5}>
        <Scatter data={asPoints(dDiracDots)} shape={<circle r={2.4} fill="#FFFF10" />} fill="#FFFF10" isAnimationActive={false} legendType="none" />
      </HeatMap>
      <ColorBar id="barD" rect={[1768, 742, 1809, 1226.5]} stops={dBarStops} top={13.55} ticks={dBarTicks} />
      <Note x={1191} y={777} size={38} color="#fff" bold>d</Note>
      <Note x={1476} y={928} size={30} color="#FFFF10">Te(2)</Note>
      <Note x={1384} y={1033} size={30} color="#FFFF10">Te(1)</Note>
      <Note x={1366} y={1162} size={29} color="#FFFF10">Dirac edge states</Note>
      <Note x={1257} y={1299.5} size={29}>Frequency distribution (ppm)</Note>
      <Turned x={1071.5} y={975} size={29}><i>T</i><Sub>2</Sub><i>′</i> distribution (µs)</Turned>
    </div>
  );
}
